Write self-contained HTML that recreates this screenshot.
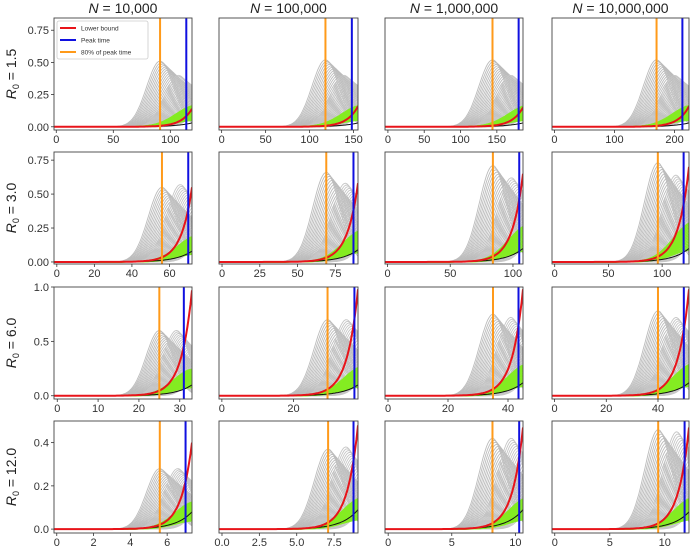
<!DOCTYPE html>
<html><head><meta charset="utf-8">
<style>
html,body{margin:0;padding:0;background:#fff;}
svg{display:block;font-family:"Liberation Sans","DejaVu Sans",sans-serif;}
</style></head>
<body>
<svg id="chart" width="690" height="551" viewBox="0 0 690 551" xmlns="http://www.w3.org/2000/svg"></svg>
<script>
// ---- data ----
const colTitles = ["10,000","100,000","1,000,000","10,000,000"];
const rowLabels = ["1.5","3.0","6.0","12.0"];
const yMins = [-0.025,-0.015,-0.03,-0.018];
const yMaxs = [0.845,0.81,1.0,0.5];
const yTicks = [[0,0.25,0.5,0.75],[0,0.25,0.5,0.75],[0,0.5,1.0],[0,0.2,0.4]];
const yTickLabels = [["0.00","0.25","0.50","0.75"],["0.00","0.25","0.50","0.75"],["0.0","0.5","1.0"],["0.0","0.2","0.4"]];
const xMaxs = [[119,155,186,224],[72,90,108,125],[33,38,45,52],[7.35,9.1,10.6,12.2]];
const xMins = [[-2,-3,-4,-4],[-1.5,-2,-2,-2.5],[-0.8,-0.8,-1,-1],[-0.15,-0.2,-0.25,-0.25]];
const xTicks = [[[0,50,100],[0,50,100,150],[0,50,100,150],[0,100,200]],
  [[0,20,40,60],[0,25,50,75],[0,50,100],[0,50,100]],
  [[0,10,20,30],[0,20],[0,20,40],[0,20,40]],
  [[0,2,4,6],[0,2.5,5,7.5],[0,5,10],[0,5,10]]];
const xTickLabels = [[["0","50","100"],["0","50","100","150"],["0","50","100","150"],["0","100","200"]],
  [["0","20","40","60"],["0","25","50","75"],["0","50","100"],["0","50","100"]],
  [["0","10","20","30"],["0","20"],["0","20","40"],["0","20","40"]],
  [["0","2","4","6"],["0.0","2.5","5.0","7.5"],["0","5","10"],["0","5","10"]]];
const peakTimes = [[114,148,180,213],[70,87,105,120],[31,37,43.5,50],[7.0,8.8,10.3,11.8]];
const orangeTimes = [[91,118,144,170],[56,69,84,96],[25,29.5,35,40],[5.6,7.1,8.2,9.4]];
const greyPeaks = [[0.51,0.52,0.52,0.52],[0.55,0.66,0.71,0.73],[0.6,0.7,0.75,0.78],[0.28,0.37,0.42,0.46]];
const secondPeaks = [[0.4,0.4,0.4,0.4],[0.57,0.58,0.62,0.64],[0.6,0.7,0.72,0.72],[0.28,0.38,0.42,0.45]];
const redEnds = [[0.14,0.16,0.15,0.16],[0.55,0.58,0.65,0.7],[0.97,0.98,0.98,0.98],[0.4,0.48,0.47,0.47]];
const greenTops = [[0.17,0.17,0.17,0.17],[0.2,0.24,0.28,0.3],[0.25,0.28,0.3,0.3],[0.13,0.15,0.15,0.15]];
const blackEnds = [[0.03,0.03,0.03,0.03],[0.08,0.09,0.1,0.1],[0.1,0.1,0.12,0.12],[0.08,0.09,0.09,0.08]];
// ---- layout ----
const colX = [[54,192],[219,358],[385,523],[552,689]];
const rowY = [[18,130],[152,264],[287,399],[421,533]];
const NS="http://www.w3.org/2000/svg";
const svg=document.getElementById('chart');
function mk(tag,attrs,parent){const e=document.createElementNS(NS,tag);for(const k in attrs)e.setAttribute(k,attrs[k]);(parent||svg).appendChild(e);return e;}
function gauss(x,mu,s){return Math.exp(-0.5*((x-mu)/s)*((x-mu)/s));}

for(let r=0;r<4;r++){for(let c=0;c<4;c++){
  const [x0,x1]=colX[c],[y0,y1]=rowY[r];
  const xmin=xMins[r][c],xmax=xMaxs[r][c],ymin=yMins[r],ymax=yMaxs[r];
  const sx=v=>x0+(v-xmin)/(xmax-xmin)*(x1-x0);
  const sy=v=>y1-(v-ymin)/(ymax-ymin)*(y1-y0);
  const g=mk('g',{});
  
  
  const cid='clip'+r+c;
  const cp=mk('clipPath',{id:cid},g);mk('rect',{x:x0,y:y0,width:x1-x0,height:y1-y0},cp);
  const pg=mk('g',{'clip-path':'url(#'+cid+')'},g);
  const orange=orangeTimes[r][c],peak=peakTimes[r][c];
  const sig=orange*0.13;
  const N=90;
  function path(fn){let d='';for(let i=0;i<=N;i++){const x=xmin+(xmax-xmin)*i/N;d+=(i?'L':'M')+sx(x).toFixed(1)+','+sy(fn(x)).toFixed(1);}return d;}
  // grey family 1
  for(let k=0;k<30;k++){
    const mu=orange+k*(peak-orange)*0.055, h=greyPeaks[r][c]*(1-k*0.022);
    const p=mk('path',{d:path(x=>h*gauss(x,mu,sig*(1+k*0.012))),fill:'none',stroke:'#bcbcbc','stroke-width':0.9},pg);
    
    
  }
  // grey family 2
  for(let k=0;k<24;k++){
    const mu=peak-(peak-orange)*0.3+k*(peak-orange)*0.05, h=secondPeaks[r][c]*(1-k*0.022);
    const p=mk('path',{d:path(x=>h*gauss(x,mu,sig)),fill:'none',stroke:'#c6c6c6','stroke-width':0.9},pg);
    
    
  }
  // green band
  for(let k=0;k<18;k++){
    const h=greenTops[r][c]*(0.3+k*0.04);
    const p=mk('path',{d:path(x=>h*gauss(x,peak*1.08,sig*1.5)),fill:'none',stroke:'#84ec22','stroke-width':1.3},pg);
    
    
  }
  // black
  const bk=mk('path',{d:path(x=>blackEnds[r][c]*Math.exp((x-xmax)/(xmax*0.12))),fill:'none',stroke:'#111','stroke-width':1},pg);
  
  
  // red
  const rd=mk('path',{d:path(x=>redEnds[r][c]*Math.exp((x-xmax)/(xmax*0.08))),fill:'none',stroke:'#e8141a','stroke-width':2},pg);
  
  
  // vertical lines
  const ol=mk('line',{x1:sx(orange),x2:sx(orange),y1:y0,y2:y1,stroke:'#ff9a1a','stroke-width':2},pg);
  
  
  const bl=mk('line',{x1:sx(peak),x2:sx(peak),y1:y0,y2:y1,stroke:'#1010e0','stroke-width':2},pg);
  
  
  // frame
  const fr=mk('rect',{x:x0,y:y0,width:x1-x0,height:y1-y0,fill:'none',stroke:'#444','stroke-width':0.9},g);
  
  
  // x ticks
  xTicks[r][c].forEach((t,i)=>{
    const X=sx(t);
    mk('line',{x1:X,x2:X,y1:y1,y2:y1+3,stroke:'#333','stroke-width':0.8},g);
    const tx=mk('text',{x:X,y:y1+13,'font-size':11,'text-anchor':'middle',fill:'#333'},g);
    tx.textContent=xTickLabels[r][c][i];
    
    
  });
  // y ticks (only first column)
  if(c===0){yTicks[r].forEach((t,i)=>{
    const Y=sy(t);
    mk('line',{x1:x0-3,x2:x0,y1:Y,y2:Y,stroke:'#333','stroke-width':0.8},g);
    const tx=mk('text',{x:x0-5,y:Y+4,'font-size':11,'text-anchor':'end',fill:'#333'},g);
    tx.textContent=yTickLabels[r][i];
    
    
  });}
}}
// column titles
colTitles.forEach((t,c)=>{
  const tx=mk('text',{x:(colX[c][0]+colX[c][1])/2,y:13,'font-size':14,'text-anchor':'middle',fill:'#222'});
  tx.innerHTML='<tspan font-style="italic">N</tspan> = '+t;
  
  
});
// row labels
rowLabels.forEach((t,r)=>{
  const cy=(rowY[r][0]+rowY[r][1])/2;
  const tx=mk('text',{x:0,y:0,'font-size':14,'text-anchor':'middle',fill:'#222',transform:'translate(16,'+cy+') rotate(-90)'});
  tx.innerHTML='<tspan font-style="italic">R</tspan><tspan font-size="9" dy="3">0</tspan><tspan dy="-3"> = '+t+'</tspan>';
  
  
});
// legend
const lg=mk('g',{});


mk('rect',{x:57,y:21,width:91,height:38,fill:'#fff',stroke:'#ccc','stroke-width':0.8,rx:2},lg);
const legNames=["Lower bound","Peak time","80% of peak time"];
const legColors=["#e8141a","#1010e0","#ff9a1a"];
legNames.forEach((n,i)=>{
  const y=28+i*12;
  mk('line',{x1:60,x2:76,y1:y,y2:y,stroke:legColors[i],'stroke-width':2},lg);
  const tx=mk('text',{x:81,y:y+2.5,'font-size':6.5,fill:'#333'},lg);
  tx.textContent=n;
  
  
});
</script>
</body></html>
